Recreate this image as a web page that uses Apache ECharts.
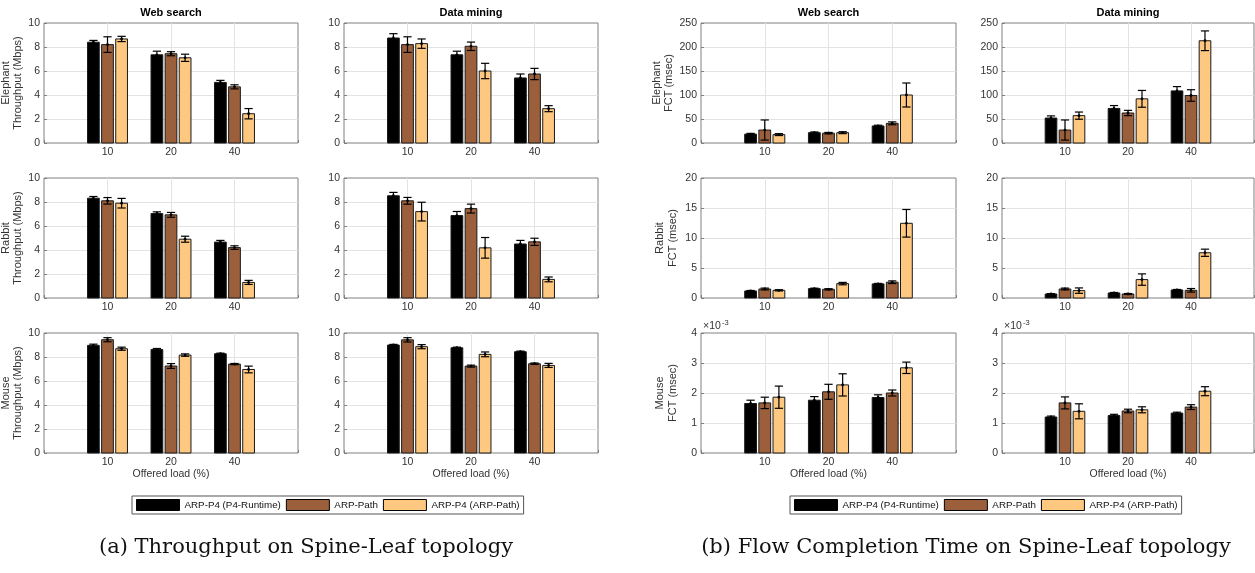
<!DOCTYPE html>
<html>
<head>
<meta charset="utf-8">
<script src="https://cdn.jsdelivr.net/npm/echarts@6/dist/echarts.min.js"></script>
<style>
html,body{margin:0;padding:0;background:#fff;}
#chart{width:1255px;height:573px;}
</style>
</head>
<body>
<div id="chart"></div>
<script>
// ---------- data ----------
const loadLabels = ['10', '20', '40'];
const methods = ['ARP-P4 (P4-Runtime)', 'ARP-Path', 'ARP-P4 (ARP-Path)'];

// Throughput (Mbps): rows = methods, cols = offered load 10/20/40
const thrWsEle    = [[8.40, 7.35, 5.05], [8.20, 7.44, 4.68], [8.67, 7.10, 2.44]];
const thrWsEleErr = [[0.15, 0.30, 0.17], [0.65, 0.17, 0.17], [0.22, 0.30, 0.43]];
const thrDmEle    = [[8.75, 7.35, 5.42], [8.20, 8.06, 5.75], [8.28, 6.00, 2.86]];
const thrDmEleErr = [[0.36, 0.30, 0.33], [0.65, 0.35, 0.47], [0.39, 0.64, 0.25]];
const thrWsRab    = [[8.32, 7.04, 4.66], [8.10, 6.93, 4.20], [7.90, 4.90, 1.30]];
const thrWsRabErr = [[0.14, 0.14, 0.14], [0.27, 0.20, 0.15], [0.40, 0.25, 0.17]];
const thrDmRab    = [[8.52, 6.87, 4.50], [8.10, 7.45, 4.68], [7.20, 4.18, 1.55]];
const thrDmRabErr = [[0.28, 0.34, 0.30], [0.28, 0.37, 0.30], [0.78, 0.86, 0.20]];
const thrWsMou    = [[8.97, 8.63, 8.27], [9.44, 7.25, 7.41], [8.69, 8.16, 6.96]];
const thrWsMouErr = [[0.10, 0.08, 0.05], [0.17, 0.20, 0.05], [0.13, 0.10, 0.28]];
const thrDmMou    = [[9.00, 8.77, 8.44], [9.43, 7.24, 7.44], [8.86, 8.22, 7.30]];
const thrDmMouErr = [[0.05, 0.05, 0.05], [0.18, 0.08, 0.06], [0.17, 0.20, 0.17]];

// Flow completion time (msec)
const fctWsEle    = [[18.5, 21.5, 35.5], [27.0, 20.5, 41.0], [17.5, 21.5, 100.0]];
const fctWsEleErr = [[1.5, 1.5, 1.5], [21.0, 1.5, 3.0], [2.0, 2.0, 25.0]];
const fctDmEle    = [[52.0, 72.0, 108.5], [27.0, 62.5, 99.0], [57.0, 92.0, 213.0]];
const fctDmEleErr = [[4.5, 6.0, 9.0], [21.0, 5.5, 12.0], [7.5, 17.5, 20.5]];
const fctWsRab    = [[1.17, 1.56, 2.35], [1.50, 1.45, 2.63], [1.28, 2.40, 12.45]];
const fctWsRabErr = [[0.08, 0.08, 0.08], [0.15, 0.10, 0.22], [0.10, 0.20, 2.30]];
const fctDmRab    = [[0.67, 0.84, 1.34], [1.50, 0.67, 1.28], [1.23, 3.07, 7.54]];
const fctDmRabErr = [[0.05, 0.08, 0.08], [0.15, 0.08, 0.30], [0.45, 0.95, 0.60]];
const fctWsMou    = [[1.65e-3, 1.76e-3, 1.85e-3], [1.67e-3, 2.04e-3, 2.00e-3], [1.86e-3, 2.27e-3, 2.84e-3]];
const fctWsMouErr = [[0.11e-3, 0.12e-3, 0.09e-3], [0.19e-3, 0.25e-3, 0.10e-3], [0.37e-3, 0.37e-3, 0.19e-3]];
const fctDmMou    = [[1.20e-3, 1.25e-3, 1.33e-3], [1.67e-3, 1.40e-3, 1.53e-3], [1.39e-3, 1.44e-3, 2.06e-3]];
const fctDmMouErr = [[0.03e-3, 0.04e-3, 0.03e-3], [0.20e-3, 0.06e-3, 0.08e-3], [0.25e-3, 0.10e-3, 0.15e-3]];

// ---------- layout & style ----------
const FONT = '"Liberation Sans", Arial, Helvetica, sans-serif';
const colors = ['#000000', '#9b603b', '#ffc880'];
const offsets = [-0.222, 0, 0.222];
const BW = 0.185, CW = 0.13;

const colX = [44, 344, 701, 1002];
const colW = [254, 254, 255, 252];
const rowY = [23, 178, 333];
const rowH = 120;

const panels = [
  {c:0, r:0, vals:thrWsEle, errs:thrWsEleErr, max:10, step:2, label:'Elephant\nThroughput (Mbps)', gap:17},
  {c:1, r:0, vals:thrDmEle, errs:thrDmEleErr, max:10, step:2},
  {c:0, r:1, vals:thrWsRab, errs:thrWsRabErr, max:10, step:2, label:'Rabbit\nThroughput (Mbps)', gap:17},
  {c:1, r:1, vals:thrDmRab, errs:thrDmRabErr, max:10, step:2},
  {c:0, r:2, vals:thrWsMou, errs:thrWsMouErr, max:10, step:2, label:'Mouse\nThroughput (Mbps)', gap:17},
  {c:1, r:2, vals:thrDmMou, errs:thrDmMouErr, max:10, step:2},
  {c:2, r:0, vals:fctWsEle, errs:fctWsEleErr, max:250, step:50, label:'Elephant\nFCT (msec)', gap:22},
  {c:3, r:0, vals:fctDmEle, errs:fctDmEleErr, max:250, step:50},
  {c:2, r:1, vals:fctWsRab, errs:fctWsRabErr, max:20, step:5, label:'Rabbit\nFCT (msec)', gap:22},
  {c:3, r:1, vals:fctDmRab, errs:fctDmRabErr, max:20, step:5},
  {c:2, r:2, vals:fctWsMou, errs:fctWsMouErr, max:0.004, step:0.001, scale:1000, label:'Mouse\nFCT (msec)', gap:22},
  {c:3, r:2, vals:fctDmMou, errs:fctDmMouErr, max:0.004, step:0.001, scale:1000}
];

function makeRender(m) {
  return function (params, api) {
    const x = api.value(0) + offsets[m];
    const v = api.value(1), e = api.value(2);
    const tl = api.coord([x - BW / 2, v]);
    const br = api.coord([x + BW / 2, 0]);
    const top = api.coord([x, v + e]);
    const bot = api.coord([x, v - e]);
    const cl = api.coord([x - CW / 2, v]);
    const cr = api.coord([x + CW / 2, v]);
    const mid = api.coord([x, v]);
    const ls = {stroke:'#000', lineWidth:1.2};
    return {type:'group', children:[
      {type:'rect', shape:{x:tl[0], y:tl[1], width:br[0]-tl[0], height:br[1]-tl[1]},
       style:{fill:colors[m], stroke:'#1a1a1a', lineWidth:1}},
      {type:'line', shape:{x1:top[0], y1:top[1], x2:bot[0], y2:bot[1]}, style:ls},
      {type:'line', shape:{x1:cl[0], y1:top[1], x2:cr[0], y2:top[1]}, style:ls},
      {type:'line', shape:{x1:cl[0], y1:bot[1], x2:cr[0], y2:bot[1]}, style:ls},
      {type:'circle', shape:{cx:mid[0], cy:mid[1], r:1.4}, style:{fill:'#000'}}
    ]};
  };
}

const option = {animation:false, grid:[], xAxis:[], yAxis:[], series:[], legend:[], graphic:[]};

panels.forEach((p, k) => {
  option.grid.push({left:colX[p.c], top:rowY[p.r], width:colW[p.c], height:rowH,
    outerBoundsMode:'none', containLabel:false,
    show:true, borderColor:'#808080', borderWidth:1, backgroundColor:'#fff'});
  option.xAxis.push({gridIndex:k, type:'value', min:0, max:4, interval:1,
    axisLine:{show:false},
    axisTick:{show:true, inside:true, length:3, lineStyle:{color:'#808080'}},
    splitLine:{show:true, showMinLine:false, showMaxLine:false, lineStyle:{color:'#e3e3e3', width:1}},
    axisLabel:{fontSize:10.5, color:'#333', margin:4, fontFamily:FONT, showMinLabel:true, showMaxLabel:true,
      formatter: v => (v >= 1 && v <= loadLabels.length) ? loadLabels[v - 1] : ''},
    name: p.r === 2 ? 'Offered load (%)' : '', nameLocation:'middle', nameGap:15,
    nameTextStyle:{fontSize:10.5, color:'#333', fontFamily:FONT}
  });
  const yLab = {fontSize:10.5, color:'#333', margin:4, fontFamily:FONT};
  if (p.scale) yLab.formatter = v => String(Math.round(v * p.scale));
  option.yAxis.push({gridIndex:k, type:'value', min:0, max:p.max, interval:p.step,
    axisLine:{show:false},
    axisTick:{show:true, inside:true, length:3, lineStyle:{color:'#808080'}},
    splitLine:{show:true, showMinLine:false, showMaxLine:false, lineStyle:{color:'#e3e3e3', width:1}},
    axisLabel:yLab,
    name:p.label || '', nameLocation:'middle', nameGap:p.gap || 20,
    nameTextStyle:{fontSize:11, lineHeight:12.5, color:'#333', fontFamily:FONT}
  });
  methods.forEach((mName, m) => {
    option.series.push({type:'custom', name:mName, xAxisIndex:k, yAxisIndex:k,
      encode:{x:0, y:1}, itemStyle:{color:colors[m]},
      data: loadLabels.map((_, i) => [i + 1, p.vals[m][i], p.errs[m][i]]),
      renderItem: makeRender(m)});
  });
  if (p.scale) {
    option.graphic.push({type:'text', x:colX[p.c] + 2, y:rowY[p.r] - 1,
      style:{text:'×10', fontSize:10.5, fontFamily:FONT, fill:'#333', align:'left', verticalAlign:'bottom'}});
    option.graphic.push({type:'text', x:colX[p.c] + 21, y:rowY[p.r] - 6,
      style:{text:'-3', fontSize:7.5, fontFamily:FONT, fill:'#333', align:'left', verticalAlign:'bottom'}});
  }
});

// column titles
const titles = [['Web search', 0], ['Data mining', 1], ['Web search', 2], ['Data mining', 3]];
titles.forEach(([t, c]) => {
  option.graphic.push({type:'text', x:colX[c] + colW[c] / 2, y:13,
    style:{text:t, fontSize:11, fontWeight:'bold', fontFamily:FONT, fill:'#000', align:'center', verticalAlign:'middle'}});
});

// legends
[132, 790].forEach(lx => {
  option.legend.push({left:lx, top:496, orient:'horizontal', icon:'rect', itemWidth:43, itemHeight:11,
    itemGap:5, padding:[3, 4, 3, 4], borderColor:'#555', borderWidth:1, backgroundColor:'#fff',
    selectedMode:false,
    textStyle:{fontSize:9.8, color:'#111', fontFamily:FONT},
    data: methods.map((n, i) => ({name:n, itemStyle:{color:colors[i], borderColor:'#000', borderWidth:1}}))});
});

// captions
option.graphic.push({type:'text', x:306, y:548,
  style:{text:'(a) Throughput on Spine-Leaf topology', fontSize:21, fontFamily:'"DejaVu Serif", serif', fill:'#111', align:'center', verticalAlign:'middle'}});
option.graphic.push({type:'text', x:966, y:548,
  style:{text:'(b) Flow Completion Time on Spine-Leaf topology', fontSize:21, fontFamily:'"DejaVu Serif", serif', fill:'#111', align:'center', verticalAlign:'middle'}});

const chart = echarts.init(document.getElementById('chart'), null, {renderer:'canvas'});
chart.setOption(option);
</script>
</body>
</html>
